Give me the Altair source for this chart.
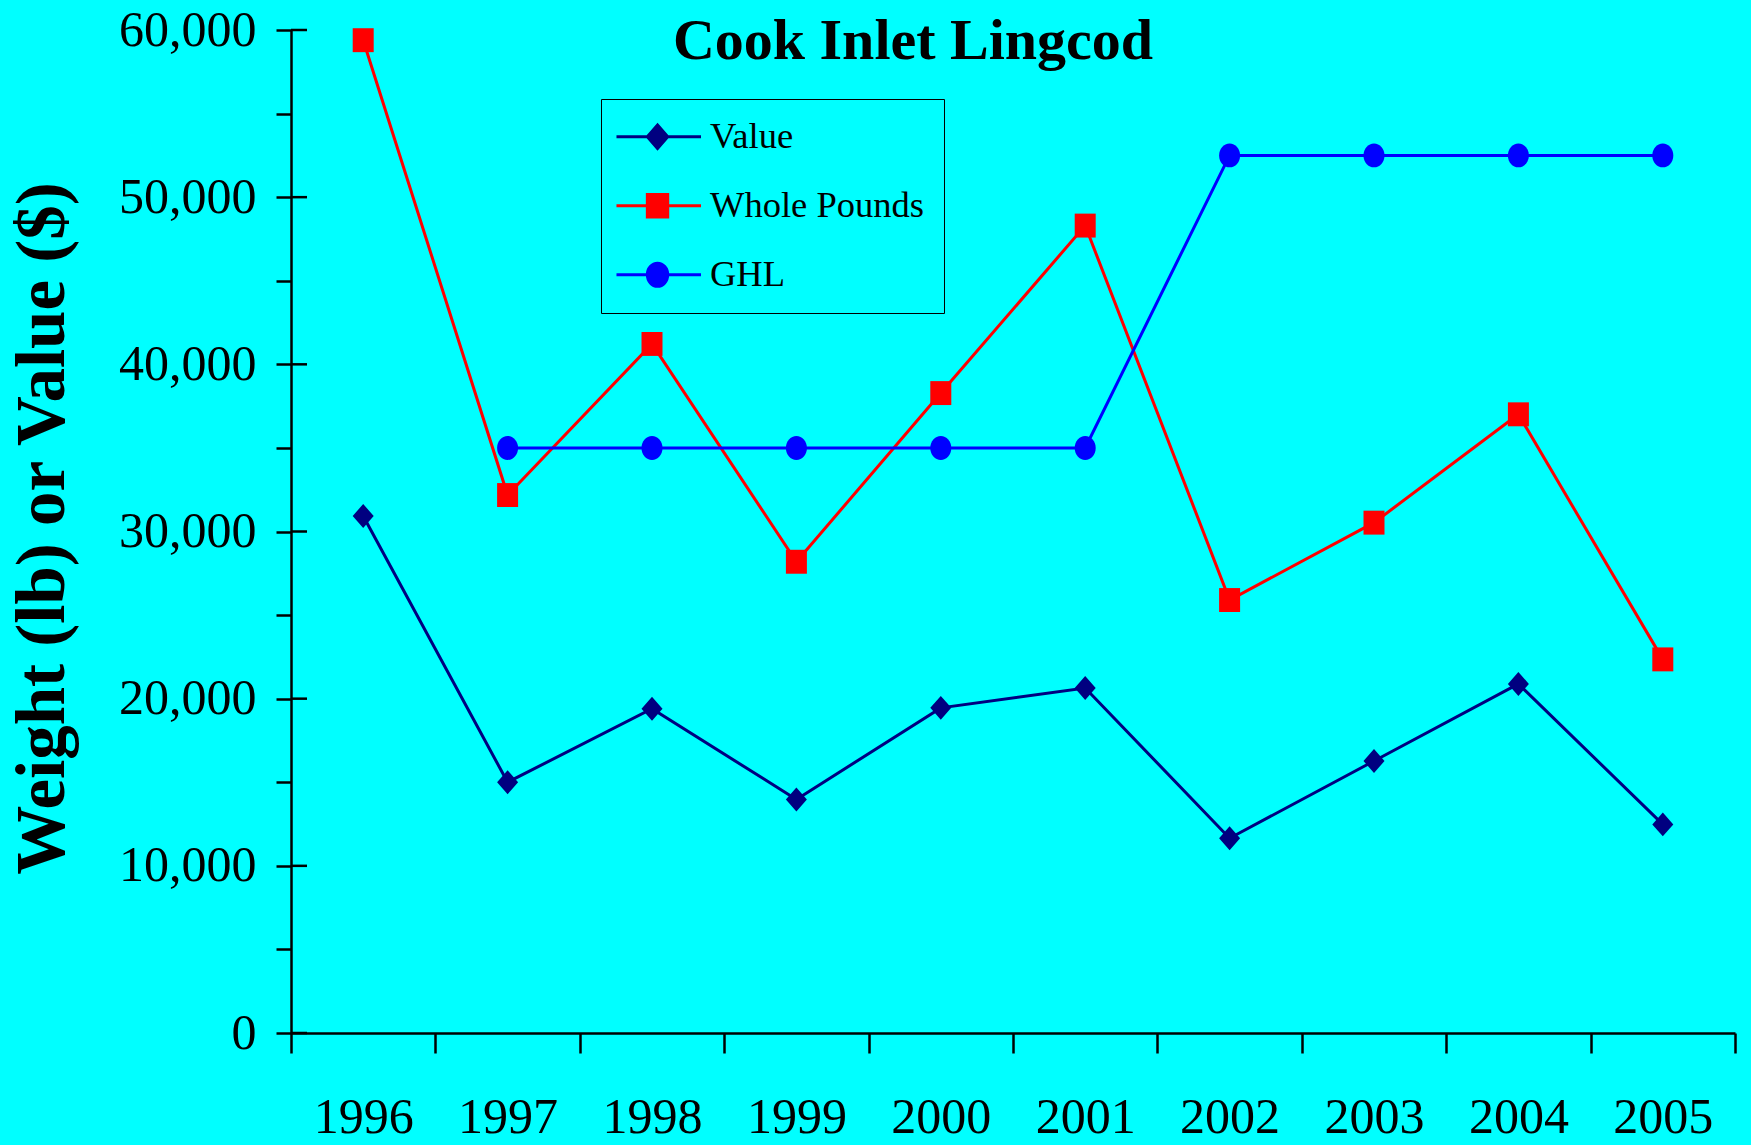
import altair as alt
import pandas as pd
import jinja2

# ---------------- data ----------------
years = ["1996", "1997", "1998", "1999", "2000", "2001", "2002", "2003", "2004", "2005"]
value_usd = [30930, 15000, 19400, 13970, 19450, 20640, 11650, 16270, 20880, 12480]
whole_pounds = [59390, 32180, 41220, 28190, 38280, 48300, 25900, 30530, 37010, 22350]
ghl = [None, 35000, 35000, 35000, 35000, 35000, 52500, 52500, 52500, 52500]
series_names = ["Value", "Whole Pounds", "GHL"]
series_colors = ["#000080", "#FF0000", "#0000FF"]
y_major = [0, 10000, 20000, 30000, 40000, 50000, 60000]
y_all = [0, 5000, 10000, 15000, 20000, 25000, 30000, 35000, 40000, 45000, 50000, 55000, 60000]
chart_title = "Cook Inlet Lingcod"
y_title = "Weight (lb) or Value ($)"

FONT = "Liberation Serif"
BG = "#00FFFF"

# page background (no white margin around the chart)
try:
    import altair.utils.html as _ah
    _orig_tpl = _ah.TEMPLATES["standard"]

    class _PageTemplate(jinja2.Template):
        def render(self, *args, **kwargs):
            html = _orig_tpl.render(*args, **kwargs)
            return html.replace(
                "<body>", '<body style="margin:0;background:#00FFFF;overflow:hidden">', 1
            )

    _ah.TEMPLATES["standard"] = _PageTemplate("")
except Exception:
    pass

rows = []
for name, vals in zip(series_names, [value_usd, whole_pounds, ghl]):
    for yr, v in zip(years, vals):
        if v is not None:
            rows.append({"year": yr, "amount": v, "series": name})
df = pd.DataFrame(rows)
ticks_df = pd.DataFrame({"amount": y_major})
title_df = pd.DataFrame({"label": [chart_title]})

# marker shapes (plot) and legend symbols (line + marker)
marker_paths = [
    "M0,-1.14L1,0L0,1.14L-1,0Z",
    "M-1,-1.14H1V1.14H-1Z",
    "M-1,0A1,1.14 0 1,1 1,0A1,1.14 0 1,1 -1,0Z",
]
legend_paths = [
    "M-1.55,0H6.5M2.36,-1.12L3.33,0L2.36,1.12L1.39,0Z",
    "M-1.55,0H6.5M1.39,-1.08H3.33V1.08H1.39Z",
    "M-1.55,0H6.5M1.39,0A0.97,1.1 0 1,1 3.33,0A0.97,1.1 0 1,1 1.39,0Z",
]

x_enc = alt.X(
    "year:O",
    scale=alt.Scale(type="band", domain=years, paddingInner=0, paddingOuter=0),
    axis=alt.Axis(
        title=None, tickBand="extent", tickSize=20, tickWidth=2.5, tickColor="black",
        domainWidth=2.5, domainColor="black", labelFont=FONT, labelFontSize=50,
        labelColor="black", labelPadding=79, labelBaseline="alphabetic", labelAngle=0,
        grid=False,
    ),
)
y_enc = alt.Y(
    "amount:Q",
    scale=alt.Scale(domain=[0, 60000], nice=False, zero=True),
    axis=alt.Axis(
        title=y_title, values=y_all,
        labelExpr="datum.value % 10000 == 0 ? format(datum.value, ',') : ''",
        tickSize=15, tickWidth=2.5, tickColor="black", domainWidth=2.5, domainColor="black",
        labelFont=FONT, labelFontSize=50, labelColor="black", labelPadding=20,
        labelOverlap=False, labelFlush=False, grid=False,
        titleFont=FONT, titleFontSize=69, titleFontWeight="bold", titleColor="black",
        titleAngle=-90, titleX=-228, titleY=498, titleAlign="center", titleBaseline="alphabetic",
    ),
)

inward = alt.Chart(ticks_df).mark_rule(color="black", strokeWidth=2.5).encode(
    y=y_enc, x=alt.value(0), x2=alt.value(16)
)

series_layers = []
for name, col, path in zip(series_names, series_colors, marker_paths):
    base = alt.Chart(df).transform_filter(alt.datum.series == name)
    series_layers.append(
        base.mark_line(strokeWidth=3, color=col).encode(x=x_enc, y=y_enc)
    )
    series_layers.append(
        base.mark_point(filled=True, size=441, opacity=1, strokeWidth=0, shape=path, color=col)
        .encode(x=x_enc, y=y_enc)
    )

leg = alt.Legend(title=None, orient="none", legendX=310, legendY=69, symbolOffset=-6)
legend_layer = alt.Chart(df).transform_filter("datum.amount < 0").mark_point(
    filled=True, size=441, strokeWidth=3, opacity=1
).encode(
    x=x_enc, y=y_enc,
    fill=alt.Fill("series:N", scale=alt.Scale(domain=series_names, range=series_colors), legend=leg),
    stroke=alt.Stroke("series:N", scale=alt.Scale(domain=series_names, range=series_colors), legend=leg),
    shape=alt.Shape("series:N", scale=alt.Scale(domain=series_names, range=legend_paths), legend=leg),
)

title_layer = alt.Chart(title_df).mark_text(
    font=FONT, fontSize=58, fontWeight="bold", color="black", align="center", baseline="alphabetic"
).encode(text="label:N", x=alt.value(622), y=alt.value(28.6))

chart = (
    alt.layer(inward, *series_layers, legend_layer, title_layer)
    .properties(
        width=1444, height=1003,
        autosize=alt.AutoSizeParams(type="none"),
        padding={"left": 291, "top": 30, "right": 16, "bottom": 112},
        background=BG,
    )
    .configure_view(stroke=None)
    .configure_legend(
        padding=19.5, strokeColor="black", strokeWidth=1, labelFont=FONT, labelFontSize=36.5,
        labelColor="black", labelOffset=59, rowPadding=32, symbolStrokeWidth=3,
        symbolSize=441, labelLimit=0,
    )
)

chart.save("out.html", embed_options={"renderer": "svg", "actions": False})
